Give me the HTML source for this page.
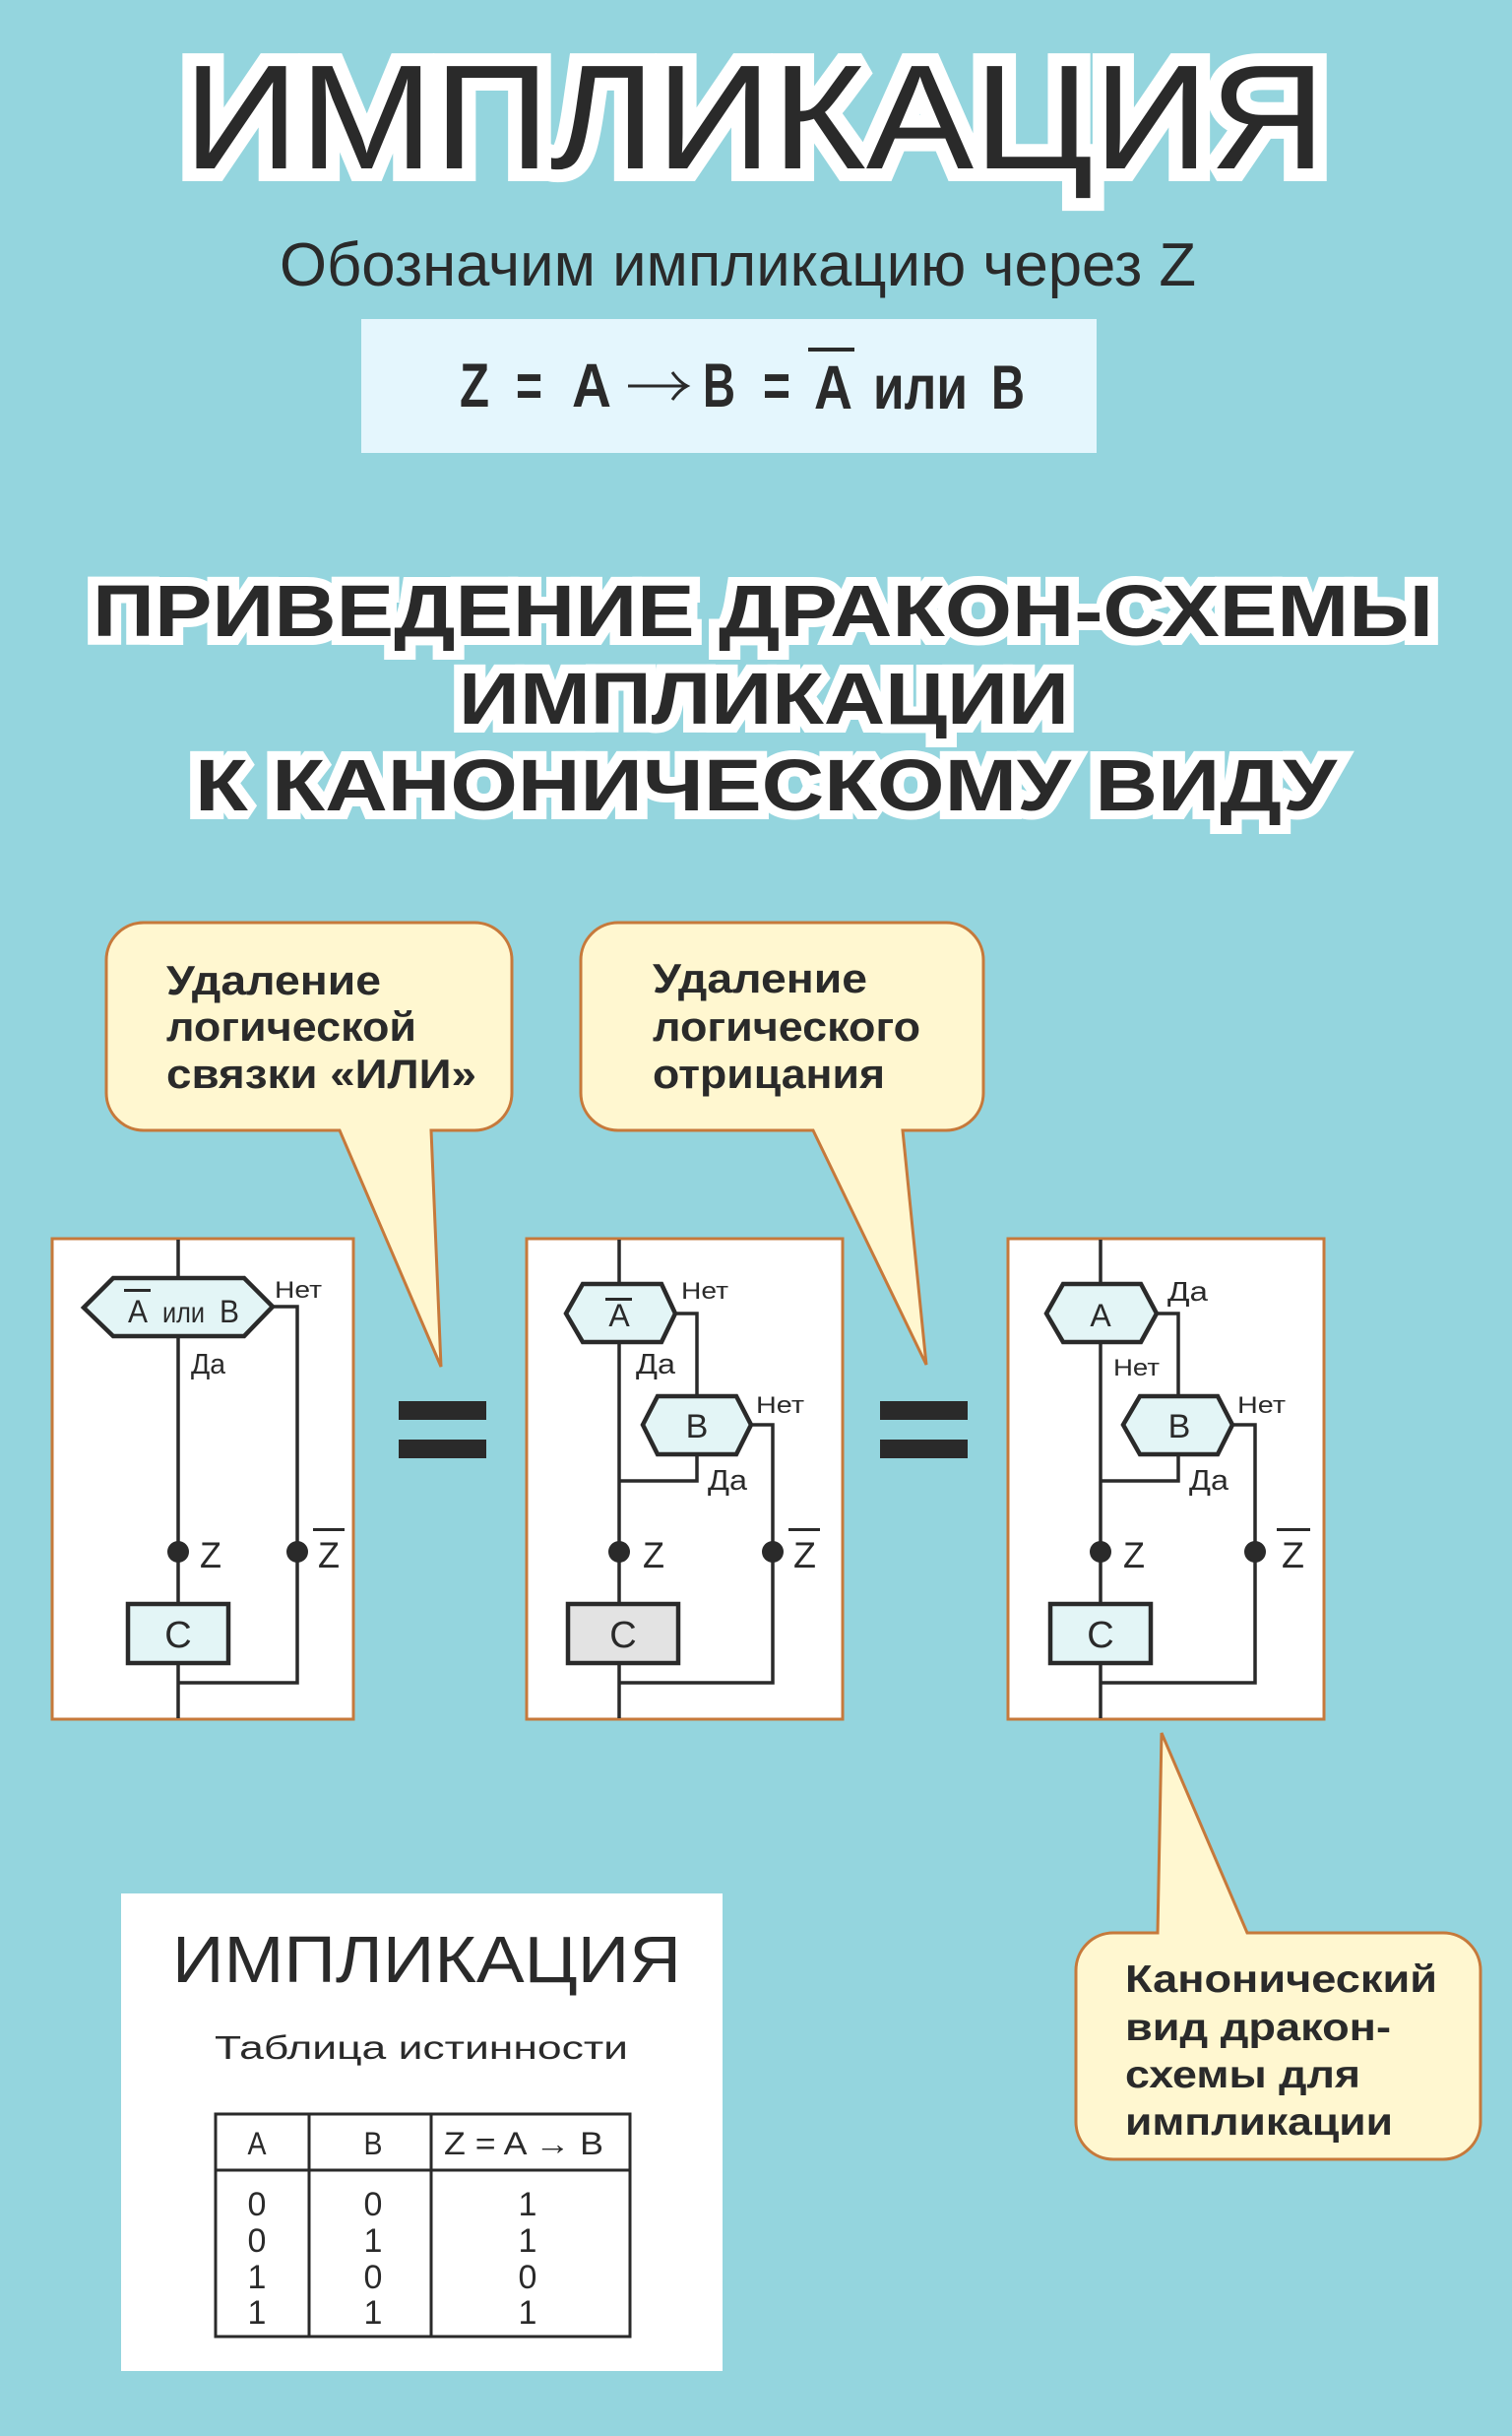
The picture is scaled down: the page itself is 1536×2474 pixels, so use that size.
<!DOCTYPE html>
<html>
<head>
<meta charset="utf-8">
<style>
  html,body{margin:0;padding:0;background:#94d5de;}
  svg{display:block;}
  text{font-family:"Liberation Sans","DejaVu Sans",sans-serif;}
</style>
</head>
<body>
<svg width="1536" height="2474" viewBox="0 0 1536 2474" xmlns="http://www.w3.org/2000/svg">
  <rect x="0" y="0" width="1536" height="2474" fill="#94d5de"/>

  <!-- Main title -->
  <text x="186" y="171" font-size="151" textLength="1161" lengthAdjust="spacingAndGlyphs" fill="#2a2a2a" stroke="#ffffff" stroke-width="26" stroke-linejoin="miter" stroke-miterlimit="2" paint-order="stroke">ИМПЛИКАЦИЯ</text>

  <!-- Subtitle -->
  <text x="284" y="290" font-size="62" textLength="931" lengthAdjust="spacingAndGlyphs" fill="#2a2a2a">Обозначим импликацию через Z</text>

  <!-- Formula box -->
  <rect x="367" y="324" width="747" height="136" fill="#e4f6fd"/>
  <g fill="#2a2a2a" font-weight="bold" font-size="63">
    <text x="467" y="413" textLength="30" lengthAdjust="spacingAndGlyphs">Z</text>
    <text x="524" y="413" textLength="27" lengthAdjust="spacingAndGlyphs">=</text>
    <text x="581" y="413" textLength="40" lengthAdjust="spacingAndGlyphs">A</text>
    <text x="714" y="413" textLength="33" lengthAdjust="spacingAndGlyphs">B</text>
    <text x="775" y="413" textLength="28" lengthAdjust="spacingAndGlyphs">=</text>
    <text x="827" y="415" textLength="39" lengthAdjust="spacingAndGlyphs">A</text>
    <text x="887" y="415" textLength="96" lengthAdjust="spacingAndGlyphs">или</text>
    <text x="1007" y="415" textLength="34" lengthAdjust="spacingAndGlyphs">B</text>
  </g>
  <rect x="821" y="353" width="47" height="4" fill="#2a2a2a"/>
  <path d="M638 392 H697 M683 378 Q690 388 698 392 Q690 396 683 406" stroke="#2a2a2a" stroke-width="3" fill="none"/>

  <!-- Section title -->
  <g fill="#2a2a2a" font-weight="bold" font-size="74" stroke="#ffffff" stroke-width="18" stroke-linejoin="miter" stroke-miterlimit="2" paint-order="stroke">
    <text x="94" y="646" textLength="1362" lengthAdjust="spacingAndGlyphs">ПРИВЕДЕНИЕ ДРАКОН-СХЕМЫ</text>
    <text x="466" y="735" textLength="620" lengthAdjust="spacingAndGlyphs">ИМПЛИКАЦИИ</text>
    <text x="198" y="823" textLength="1160" lengthAdjust="spacingAndGlyphs">К КАНОНИЧЕСКОМУ ВИДУ</text>
  </g>

  <!-- Callout 1 -->
  <path d="M146 937 H482 A38 38 0 0 1 520 975 V1110 A38 38 0 0 1 482 1148 H438 L448 1388 L345 1148 H146 A38 38 0 0 1 108 1110 V975 A38 38 0 0 1 146 937 Z" fill="#fff7d0" stroke="#c6793b" stroke-width="3"/>
  <g fill="#2a2a2a" font-weight="bold" font-size="42">
    <text x="169" y="1010" textLength="218" lengthAdjust="spacingAndGlyphs">Удаление</text>
    <text x="169" y="1057" textLength="254" lengthAdjust="spacingAndGlyphs">логической</text>
    <text x="169" y="1105" textLength="315" lengthAdjust="spacingAndGlyphs">связки «ИЛИ»</text>
  </g>

  <!-- Callout 2 -->
  <path d="M628 937 H961 A38 38 0 0 1 999 975 V1110 A38 38 0 0 1 961 1148 H917 L941 1386 L826 1148 H628 A38 38 0 0 1 590 1110 V975 A38 38 0 0 1 628 937 Z" fill="#fff7d0" stroke="#c6793b" stroke-width="3"/>
  <g fill="#2a2a2a" font-weight="bold" font-size="42">
    <text x="663" y="1008" textLength="218" lengthAdjust="spacingAndGlyphs">Удаление</text>
    <text x="663" y="1057" textLength="272" lengthAdjust="spacingAndGlyphs">логического</text>
    <text x="663" y="1105" textLength="236" lengthAdjust="spacingAndGlyphs">отрицания</text>
  </g>

  <!-- Equals signs -->
  <g fill="#2a2a2a">
    <rect x="405" y="1423" width="89" height="19"/>
    <rect x="405" y="1462" width="89" height="19"/>
    <rect x="894" y="1423" width="89" height="19"/>
    <rect x="894" y="1462" width="89" height="19"/>
  </g>

  <!-- ================= Diagram 1 ================= -->
  <rect x="53" y="1258" width="306" height="488" fill="#ffffff" stroke="#c6793b" stroke-width="3"/>
  <g stroke="#2a2a2a" stroke-width="3.5" fill="none">
    <line x1="181" y1="1259" x2="181" y2="1745"/>
    <polyline points="277,1327 302,1327 302,1709 181,1709"/>
  </g>
  <polygon points="85,1328 115,1298 248,1298 277,1327 248,1357 115,1357" fill="#e3f5f6" stroke="#2a2a2a" stroke-width="4.5"/>
  <g fill="#2a2a2a">
    <text x="130" y="1343" font-size="32" textLength="20" lengthAdjust="spacingAndGlyphs">A</text>
    <rect x="126" y="1309" width="27" height="3"/>
    <text x="165" y="1343" font-size="30" textLength="43" lengthAdjust="spacingAndGlyphs">или</text>
    <text x="223" y="1343" font-size="32" textLength="20" lengthAdjust="spacingAndGlyphs">B</text>
    <text x="279" y="1318" font-size="24" textLength="48" lengthAdjust="spacingAndGlyphs">Нет</text>
    <text x="194" y="1395" font-size="29" textLength="35" lengthAdjust="spacingAndGlyphs">Да</text>
    <circle cx="181" cy="1576" r="11"/>
    <circle cx="302" cy="1576" r="11"/>
    <text x="203" y="1592" font-size="37" textLength="22" lengthAdjust="spacingAndGlyphs">Z</text>
    <text x="323" y="1592" font-size="37" textLength="22" lengthAdjust="spacingAndGlyphs">Z</text>
    <rect x="318" y="1552" width="32" height="3"/>
  </g>
  <rect x="130" y="1629" width="102" height="60" fill="#e3f5f6" stroke="#2a2a2a" stroke-width="4.5"/>
  <text x="181" y="1673" font-size="38" text-anchor="middle" fill="#2a2a2a">C</text>

  <!-- ================= Diagram 2 ================= -->
  <rect x="535" y="1258" width="321" height="488" fill="#ffffff" stroke="#c6793b" stroke-width="3"/>
  <g stroke="#2a2a2a" stroke-width="3.5" fill="none">
    <line x1="629" y1="1259" x2="629" y2="1745"/>
    <polyline points="686,1334 708,1334 708,1418"/>
    <polyline points="763,1447 785,1447 785,1709 629,1709"/>
    <polyline points="708,1477 708,1504 629,1504"/>
  </g>
  <polygon points="575,1334 592,1304 672,1304 686,1334 672,1363 592,1363" fill="#e3f5f6" stroke="#2a2a2a" stroke-width="4.5"/>
  <polygon points="653,1447 668,1418 748,1418 763,1447 748,1477 668,1477" fill="#e3f5f6" stroke="#2a2a2a" stroke-width="4.5"/>
  <g fill="#2a2a2a">
    <text x="629" y="1347" font-size="32" text-anchor="middle">A</text>
    <rect x="615" y="1318" width="27" height="3"/>
    <text x="708" y="1460" font-size="34" text-anchor="middle">B</text>
    <text x="692" y="1319" font-size="24" textLength="48" lengthAdjust="spacingAndGlyphs">Нет</text>
    <text x="768" y="1435" font-size="24" textLength="49" lengthAdjust="spacingAndGlyphs">Нет</text>
    <text x="646" y="1395" font-size="29" textLength="40" lengthAdjust="spacingAndGlyphs">Да</text>
    <text x="719" y="1513" font-size="29" textLength="40" lengthAdjust="spacingAndGlyphs">Да</text>
    <circle cx="629" cy="1576" r="11"/>
    <circle cx="785" cy="1576" r="11"/>
    <text x="653" y="1592" font-size="37" textLength="22" lengthAdjust="spacingAndGlyphs">Z</text>
    <text x="806" y="1592" font-size="37" textLength="23" lengthAdjust="spacingAndGlyphs">Z</text>
    <rect x="801" y="1552" width="32" height="3"/>
  </g>
  <rect x="577" y="1629" width="112" height="60" fill="#e3e3e3" stroke="#2a2a2a" stroke-width="4.5"/>
  <text x="633" y="1673" font-size="38" text-anchor="middle" fill="#2a2a2a">C</text>

  <!-- ================= Diagram 3 ================= -->
  <rect x="1024" y="1258" width="321" height="488" fill="#ffffff" stroke="#c6793b" stroke-width="3"/>
  <g stroke="#2a2a2a" stroke-width="3.5" fill="none">
    <line x1="1118" y1="1259" x2="1118" y2="1745"/>
    <polyline points="1175,1334 1197,1334 1197,1418"/>
    <polyline points="1252,1447 1275,1447 1275,1709 1118,1709"/>
    <polyline points="1197,1477 1197,1504 1118,1504"/>
  </g>
  <polygon points="1063,1334 1080,1304 1159,1304 1175,1334 1159,1363 1080,1363" fill="#e3f5f6" stroke="#2a2a2a" stroke-width="4.5"/>
  <polygon points="1141,1447 1158,1418 1237,1418 1252,1447 1237,1477 1158,1477" fill="#e3f5f6" stroke="#2a2a2a" stroke-width="4.5"/>
  <g fill="#2a2a2a">
    <text x="1118" y="1347" font-size="32" text-anchor="middle">A</text>
    <text x="1198" y="1460" font-size="34" text-anchor="middle">B</text>
    <text x="1186" y="1321" font-size="28" textLength="41" lengthAdjust="spacingAndGlyphs">Да</text>
    <text x="1131" y="1397" font-size="24" textLength="47" lengthAdjust="spacingAndGlyphs">Нет</text>
    <text x="1257" y="1435" font-size="24" textLength="49" lengthAdjust="spacingAndGlyphs">Нет</text>
    <text x="1208" y="1513" font-size="29" textLength="40" lengthAdjust="spacingAndGlyphs">Да</text>
    <circle cx="1118" cy="1576" r="11"/>
    <circle cx="1275" cy="1576" r="11"/>
    <text x="1141" y="1592" font-size="37" textLength="22" lengthAdjust="spacingAndGlyphs">Z</text>
    <text x="1302" y="1592" font-size="37" textLength="23" lengthAdjust="spacingAndGlyphs">Z</text>
    <rect x="1297" y="1552" width="34" height="3"/>
  </g>
  <rect x="1067" y="1629" width="102" height="60" fill="#e3f5f6" stroke="#2a2a2a" stroke-width="4.5"/>
  <text x="1118" y="1673" font-size="38" text-anchor="middle" fill="#2a2a2a">C</text>

  <!-- Callout 3 -->
  <path d="M1131 1963 H1176 L1180 1760 L1267 1963 H1466 A38 38 0 0 1 1504 2001 V2155 A38 38 0 0 1 1466 2193 H1131 A38 38 0 0 1 1093 2155 V2001 A38 38 0 0 1 1131 1963 Z" fill="#fff7d0" stroke="#c6793b" stroke-width="3"/>
  <g fill="#2a2a2a" font-weight="bold" font-size="39">
    <text x="1143" y="2023" textLength="317" lengthAdjust="spacingAndGlyphs">Канонический</text>
    <text x="1143" y="2072" textLength="270" lengthAdjust="spacingAndGlyphs">вид дракон-</text>
    <text x="1143" y="2120" textLength="239" lengthAdjust="spacingAndGlyphs">схемы для</text>
    <text x="1143" y="2168" textLength="272" lengthAdjust="spacingAndGlyphs">импликации</text>
  </g>

  <!-- Truth table panel -->
  <rect x="123" y="1923" width="611" height="485" fill="#ffffff"/>
  <text x="175" y="2013" font-size="67" textLength="517" lengthAdjust="spacingAndGlyphs" fill="#2a2a2a">ИМПЛИКАЦИЯ</text>
  <text x="218" y="2091" font-size="33" textLength="420" lengthAdjust="spacingAndGlyphs" fill="#2a2a2a">Таблица истинности</text>
  <g stroke="#2a2a2a" stroke-width="3" fill="none">
    <rect x="219" y="2147" width="421" height="226"/>
    <line x1="219" y1="2204" x2="640" y2="2204"/>
    <line x1="314" y1="2147" x2="314" y2="2373"/>
    <line x1="438" y1="2147" x2="438" y2="2373"/>
  </g>
  <g fill="#2a2a2a" font-size="32">
    <text x="261" y="2188" text-anchor="middle" textLength="19" lengthAdjust="spacingAndGlyphs">A</text>
    <text x="379" y="2188" text-anchor="middle" textLength="19" lengthAdjust="spacingAndGlyphs">B</text>
    <text x="451" y="2188" textLength="162" lengthAdjust="spacingAndGlyphs">Z = A → B</text>
  </g>
  <g fill="#2a2a2a" font-size="34" text-anchor="middle">
    <text x="261" y="2250">0</text><text x="379" y="2250">0</text><text x="536" y="2250">1</text>
    <text x="261" y="2287">0</text><text x="379" y="2287">1</text><text x="536" y="2287">1</text>
    <text x="261" y="2324">1</text><text x="379" y="2324">0</text><text x="536" y="2324">0</text>
    <text x="261" y="2360">1</text><text x="379" y="2360">1</text><text x="536" y="2360">1</text>
  </g>
</svg>
</body>
</html>
